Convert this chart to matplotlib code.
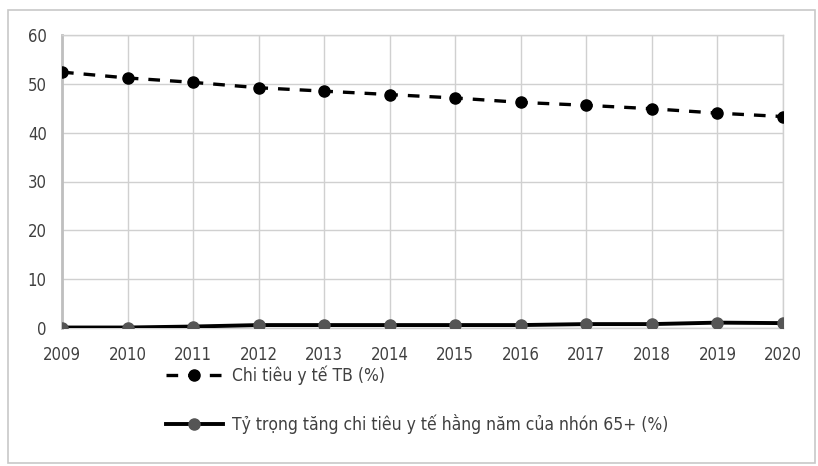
import matplotlib
matplotlib.use("Agg")
import matplotlib.pyplot as plt
from matplotlib.patches import Rectangle

years = ["2009", "2010", "2011", "2012", "2013", "2014", "2015", "2016",
         "2017", "2018", "2019", "2020"]
avg_spending = [52.4, 51.2, 50.3, 49.2, 48.5, 47.8, 47.1, 46.2, 45.6, 44.9, 44.0, 43.3]
elderly_share = [0.1, 0.1, 0.3, 0.6, 0.6, 0.6, 0.6, 0.6, 0.8, 0.8, 1.1, 1.0]
label_avg = "Chi tiêu y tế TB (%)"
label_elderly = "Tỷ trọng tăng chi tiêu y tế hằng năm của nhón 65+ (%)"
yticks = [0, 10, 20, 30, 40, 50, 60]

plt.rcParams['font.family'] = ['DejaVu Sans']
plt.rcParams['font.stretch'] = 'condensed'

W, H = 818, 466
fig = plt.figure(figsize=(W / 100, H / 100), dpi=100)
fig.patch.set_facecolor("white")

# outer chart frame
fig.add_artist(Rectangle((8 / W, 1 - 463 / H), 807 / W, 453 / H,
                         transform=fig.transFigure, fill=False,
                         edgecolor="#c8c8c8", linewidth=1.2))

ax = fig.add_axes([62 / W, 1 - 328 / H, 721 / W, 293 / H])
x = list(range(len(years)))

ax.plot(x, avg_spending, color="black", linestyle=(0, (3.5, 3)), linewidth=2.4,
        marker="o", markersize=8, markerfacecolor="black",
        markeredgecolor="black", label=label_avg, zorder=3)
ax.plot(x, elderly_share, color="black", linestyle="-", linewidth=2.8,
        marker="o", markersize=8, markerfacecolor="#555555",
        markeredgecolor="#555555", label=label_elderly, zorder=3)

ax.set_xlim(0, len(years) - 1)
ax.set_ylim(0, 60)
ax.set_yticks(yticks)
ax.set_xticks(x)
ax.set_xticklabels(years)
ax.grid(True, color="#d0d0d0", linewidth=1.0)
ax.set_axisbelow(True)
for side in ["top", "right", "bottom"]:
    ax.spines[side].set_color("#d0d0d0")
    ax.spines[side].set_linewidth(1.0)
ax.spines["left"].set_color("#bfbfbf")
ax.spines["left"].set_linewidth(2.0)
ax.tick_params(axis="both", length=0, labelsize=12, labelcolor="#404040")
ax.tick_params(axis="y", pad=11)
ax.tick_params(axis="x", pad=13)

leg = fig.legend(loc="upper left", bbox_to_anchor=(150 / W, 1 - 350 / H),
                 frameon=False, fontsize=12.5, labelspacing=1.64,
                 handlelength=3.3, handletextpad=0.55)
for t in leg.get_texts():
    t.set_color("#404040")

fig.savefig("out.png", dpi=100, facecolor="white")
